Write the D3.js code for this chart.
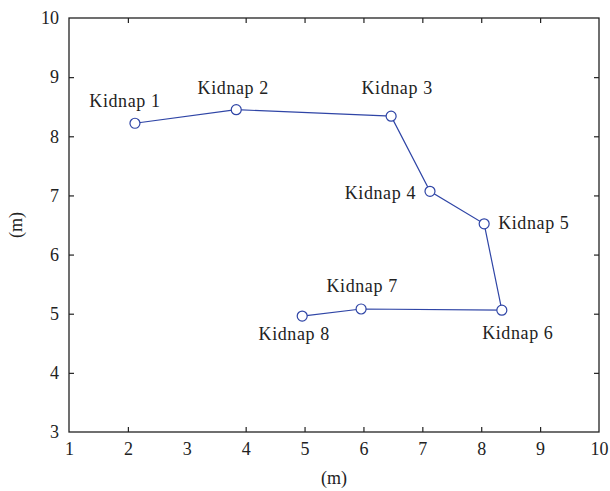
<!DOCTYPE html>
<html>
<head>
<meta charset="utf-8">
<script src="https://cdn.jsdelivr.net/npm/d3@7"></script>
<style>
body { margin: 0; background: #fff; }
text { font-family: "Liberation Serif", "DejaVu Serif", serif; fill: #222; }
</style>
</head>
<body>
<svg id="chart"></svg>
<script>
var labels = ["Kidnap 1", "Kidnap 2", "Kidnap 3", "Kidnap 4", "Kidnap 5", "Kidnap 6", "Kidnap 7", "Kidnap 8"];
var xs = [2.12, 3.84, 6.47, 7.13, 8.05, 8.35, 5.96, 4.96];
var ys = [8.22, 8.45, 8.34, 7.07, 6.52, 5.06, 5.08, 4.96];
var xTicks = [1, 2, 3, 4, 5, 6, 7, 8, 9, 10];
var yTicks = [3, 4, 5, 6, 7, 8, 9, 10];
// label offsets relative to the point (dx, dy, anchor)
var labelPos = [
    [-10, -16, "middle"], [-3, -16, "middle"], [6, -22, "middle"], [-14, 8, "end"],
    [14, 5, "start"], [16, 29, "middle"], [1, -17, "middle"], [-8, 24, "middle"]
];

var width = 610, height = 491;
var margin = {left: 69, right: 11, top: 18, bottom: 59};
var svg = d3.select("#chart").attr("width", width).attr("height", height);

var x = d3.scaleLinear().domain([1, 10]).range([margin.left, width - margin.right]);
var y = d3.scaleLinear().domain([3, 10]).range([height - margin.bottom, margin.top]);

var g = svg.append("g");

// box frame
g.append("rect")
    .attr("x", x(1)).attr("y", y(10))
    .attr("width", x(10) - x(1)).attr("height", y(3) - y(10))
    .attr("fill", "none").attr("stroke", "#222").attr("stroke-width", 1.3);

function styleAxis(sel) {
    sel.select(".domain").remove();
    sel.selectAll("line").attr("stroke", "#222").attr("stroke-width", 1.2);
    sel.selectAll("text").style("font-size", "18px").attr("fill", "#222");
}

g.append("g").attr("transform", "translate(0," + y(3) + ")")
    .call(d3.axisBottom(x).tickValues(xTicks).tickSize(-5).tickPadding(10).tickFormat(d3.format("d")))
    .call(styleAxis);
g.append("g").attr("transform", "translate(0," + y(10) + ")")
    .call(d3.axisTop(x).tickValues(xTicks).tickSize(-5).tickFormat(""))
    .call(styleAxis);
g.append("g").attr("transform", "translate(" + x(1) + ",0)")
    .call(d3.axisLeft(y).tickValues(yTicks).tickSize(-5).tickPadding(10).tickFormat(d3.format("d")))
    .call(styleAxis);
g.append("g").attr("transform", "translate(" + x(10) + ",0)")
    .call(d3.axisRight(y).tickValues(yTicks).tickSize(-5).tickFormat(""))
    .call(styleAxis);

// hide tick marks sitting on corners
g.selectAll(".tick").filter(function (d) { return d === 1 || d === 10 || d === 3; })
    .select("line").attr("stroke-opacity", 0);

var pts = xs.map(function (v, i) { return [v, ys[i]]; });
var line = d3.line().x(function (d) { return x(d[0]); }).y(function (d) { return y(d[1]); });

g.append("path").datum(pts)
    .attr("d", line)
    .attr("fill", "none").attr("stroke", "#2f45a6").attr("stroke-width", 1.2);

g.selectAll(".pt").data(pts).enter().append("circle")
    .attr("class", "pt")
    .attr("cx", function (d) { return x(d[0]); })
    .attr("cy", function (d) { return y(d[1]); })
    .attr("r", 5)
    .attr("fill", "#fff").attr("stroke", "#2f45a6").attr("stroke-width", 1.2);

g.selectAll(".lbl").data(pts).enter().append("text")
    .attr("class", "lbl")
    .attr("x", function (d, i) { return x(d[0]) + labelPos[i][0]; })
    .attr("y", function (d, i) { return y(d[1]) + labelPos[i][1]; })
    .attr("text-anchor", function (d, i) { return labelPos[i][2]; })
    .style("font-size", "18px")
    .style("letter-spacing", "0.6px")
    .text(function (d, i) { return labels[i]; });

svg.append("text")
    .attr("x", (x(1) + x(10)) / 2).attr("y", 484)
    .attr("text-anchor", "middle").style("font-size", "18px")
    .text("(m)");
svg.append("text")
    .attr("transform", "translate(22," + (y(3) + y(10)) / 2 + ") rotate(-90)")
    .attr("text-anchor", "middle").style("font-size", "18px")
    .text("(m)");
</script>
</body>
</html>
